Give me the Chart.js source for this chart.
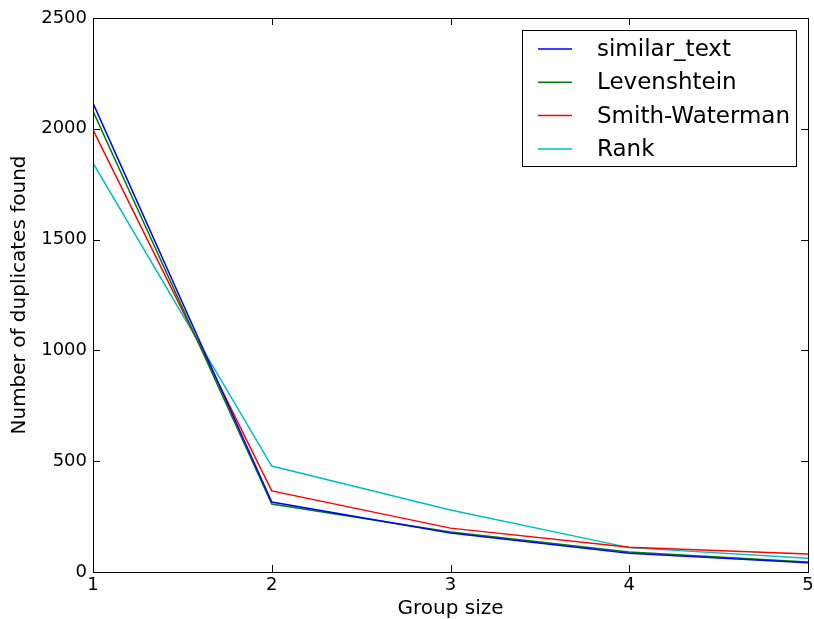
<!DOCTYPE html>
<html>
<head>
<meta charset="utf-8">
<script src="https://cdn.jsdelivr.net/npm/chart.js@4/dist/chart.umd.min.js"></script>
<style>
  html, body { margin: 0; padding: 0; background: #fff; }
  #wrap { width: 814px; height: 619px; }
</style>
</head>
<body>
<div id="wrap"><canvas id="myChart" width="814" height="619"></canvas></div>
<script>
var groupSizes = [1, 2, 3, 4, 5];
var similarText = [2116, 316, 176, 85, 42];
var levenshtein = [2080, 307, 180, 90, 45];
var smithWaterman = [1995, 366, 198, 112, 81];
var rank = [1846, 478, 280, 110, 62];
var yTicks = [0, 500, 1000, 1500, 2000, 2500];

var FONT = 'DejaVu Sans';

function toPoints(values) {
  return values.map((v, i) => ({ x: groupSizes[i], y: v }));
}

// frame, inward ticks on all four sides, legend box
var framePlugin = {
  id: 'frame',
  afterDraw(chart) {
    var ctx = chart.ctx;
    var a = chart.chartArea;
    var xs = chart.scales.x, ys = chart.scales.y;
    ctx.save();
    ctx.strokeStyle = '#000';
    ctx.lineWidth = 1;
    ctx.strokeRect(Math.round(a.left) + 0.5, Math.round(a.top) + 0.5,
      Math.round(a.right - a.left), Math.round(a.bottom - a.top));
    ctx.beginPath();
    groupSizes.forEach(g => {
      var px = Math.round(xs.getPixelForValue(g)) + 0.5;
      ctx.moveTo(px, a.bottom); ctx.lineTo(px, a.bottom - 7);
      ctx.moveTo(px, a.top); ctx.lineTo(px, a.top + 7);
    });
    yTicks.forEach(t => {
      var py = Math.round(ys.getPixelForValue(t)) + 0.5;
      ctx.moveTo(a.left, py); ctx.lineTo(a.left + 7, py);
      ctx.moveTo(a.right, py); ctx.lineTo(a.right - 7, py);
    });
    ctx.stroke();

    // legend
    var lx = 522, ly = 30, lw = 274, lh = 136;
    ctx.fillStyle = '#fff';
    ctx.fillRect(lx, ly, lw, lh);
    ctx.strokeRect(lx + 0.5, ly + 0.5, lw, lh);
    ctx.font = '23px ' + FONT;
    ctx.textBaseline = 'middle';
    chart.data.datasets.forEach((ds, i) => {
      var y = 49 + i * 33.3;
      ctx.strokeStyle = ds.borderColor;
      ctx.lineWidth = 1.5;
      ctx.beginPath();
      ctx.moveTo(538, y); ctx.lineTo(572, y);
      ctx.stroke();
      ctx.fillStyle = '#000';
      ctx.fillText(ds.label, 597, y + 1);
    });
    ctx.restore();
  }
};

var ctx = document.getElementById('myChart').getContext('2d');
var myChart = new Chart(ctx, {
  type: 'line',
  data: {
    datasets: [
      { label: 'similar_text', data: toPoints(similarText), borderColor: '#0000ff' },
      { label: 'Levenshtein', data: toPoints(levenshtein), borderColor: '#008000' },
      { label: 'Smith-Waterman', data: toPoints(smithWaterman), borderColor: '#ff0000' },
      { label: 'Rank', data: toPoints(rank), borderColor: '#00bfbf' }
    ].map(d => Object.assign(d, { borderWidth: 1.5, pointRadius: 0, tension: 0, fill: false }))
  },
  options: {
    responsive: false,
    animation: false,
    layout: { padding: { left: 0, top: 18, right: 6, bottom: 0 } },
    plugins: { legend: { display: false }, tooltip: { enabled: false } },
    scales: {
      x: {
        type: 'linear', min: 1, max: 5,
        grid: { display: false, drawTicks: false },
        border: { display: false },
        ticks: { stepSize: 1, color: '#000', padding: 3, font: { family: FONT, size: 18 },
          callback: v => String(v) },
        title: { display: true, text: 'Group size', color: '#000', padding: { top: 0, bottom: -2 }, font: { family: FONT, size: 20 } },
        afterFit(scale) { scale.height = 47; scale.paddingLeft = 0; scale.paddingRight = 0; }
      },
      y: {
        min: 0, max: 2500,
        grid: { display: false, drawTicks: false },
        border: { display: false },
        afterBuildTicks(scale) { scale.ticks = yTicks.map(v => ({ value: v })); },
        ticks: { color: '#000', padding: 6, font: { family: FONT, size: 18 },
          callback: v => String(v) },
        title: { display: true, text: 'Number of duplicates found', color: '#000', padding: { top: 8, bottom: 0 }, font: { family: FONT, size: 20 } },
        afterFit(scale) { scale.width = 93; scale.paddingTop = 0; scale.paddingBottom = 0; }
      }
    }
  },
  plugins: [framePlugin]
});
</script>
</body>
</html>
